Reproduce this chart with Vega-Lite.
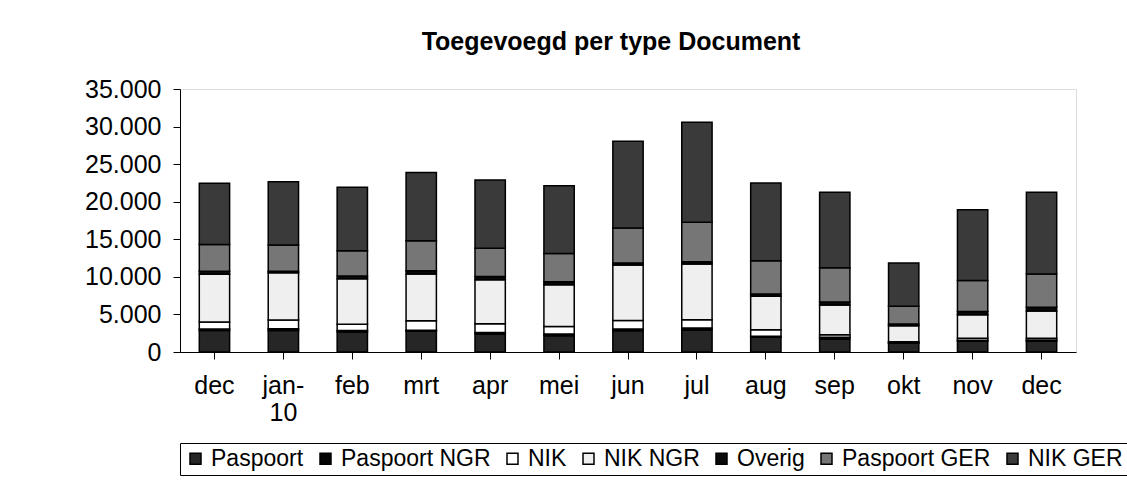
{
  "$schema": "https://vega.github.io/schema/vega-lite/v6.json",
  "width": 896,
  "height": 263,
  "padding": {"left": 84, "top": 30, "right": 5, "bottom": 5},
  "title": {"text": "Toegevoegd per type Document", "fontSize": 25, "font": "Liberation Sans", "fontWeight": "bold", "color": "#000", "offset": 22, "dx": -17},
  "data": {
    "values": [
      {"maand": "2009-12", "type": "Paspoort", "aantal": 2850},
      {"maand": "2009-12", "type": "Paspoort NGR", "aantal": 200},
      {"maand": "2009-12", "type": "NIK", "aantal": 950},
      {"maand": "2009-12", "type": "NIK NGR", "aantal": 6350},
      {"maand": "2009-12", "type": "Overig", "aantal": 400},
      {"maand": "2009-12", "type": "Paspoort GER", "aantal": 3550},
      {"maand": "2009-12", "type": "NIK GER", "aantal": 8150},
      {"maand": "2010-01", "type": "Paspoort", "aantal": 2850},
      {"maand": "2010-01", "type": "Paspoort NGR", "aantal": 250},
      {"maand": "2010-01", "type": "NIK", "aantal": 1150},
      {"maand": "2010-01", "type": "NIK NGR", "aantal": 6300},
      {"maand": "2010-01", "type": "Overig", "aantal": 200},
      {"maand": "2010-01", "type": "Paspoort GER", "aantal": 3500},
      {"maand": "2010-01", "type": "NIK GER", "aantal": 8400},
      {"maand": "2010-02", "type": "Paspoort", "aantal": 2650},
      {"maand": "2010-02", "type": "Paspoort NGR", "aantal": 200},
      {"maand": "2010-02", "type": "NIK", "aantal": 850},
      {"maand": "2010-02", "type": "NIK NGR", "aantal": 6050},
      {"maand": "2010-02", "type": "Overig", "aantal": 350},
      {"maand": "2010-02", "type": "Paspoort GER", "aantal": 3380},
      {"maand": "2010-02", "type": "NIK GER", "aantal": 8440},
      {"maand": "2010-03", "type": "Paspoort", "aantal": 2750},
      {"maand": "2010-03", "type": "Paspoort NGR", "aantal": 150},
      {"maand": "2010-03", "type": "NIK", "aantal": 1250},
      {"maand": "2010-03", "type": "NIK NGR", "aantal": 6230},
      {"maand": "2010-03", "type": "Overig", "aantal": 440},
      {"maand": "2010-03", "type": "Paspoort GER", "aantal": 3980},
      {"maand": "2010-03", "type": "NIK GER", "aantal": 9100},
      {"maand": "2010-04", "type": "Paspoort", "aantal": 2400},
      {"maand": "2010-04", "type": "Paspoort NGR", "aantal": 200},
      {"maand": "2010-04", "type": "NIK", "aantal": 1150},
      {"maand": "2010-04", "type": "NIK NGR", "aantal": 5870},
      {"maand": "2010-04", "type": "Overig", "aantal": 430},
      {"maand": "2010-04", "type": "Paspoort GER", "aantal": 3750},
      {"maand": "2010-04", "type": "NIK GER", "aantal": 9090},
      {"maand": "2010-05", "type": "Paspoort", "aantal": 2170},
      {"maand": "2010-05", "type": "Paspoort NGR", "aantal": 230},
      {"maand": "2010-05", "type": "NIK", "aantal": 1000},
      {"maand": "2010-05", "type": "NIK NGR", "aantal": 5560},
      {"maand": "2010-05", "type": "Overig", "aantal": 400},
      {"maand": "2010-05", "type": "Paspoort GER", "aantal": 3740},
      {"maand": "2010-05", "type": "NIK GER", "aantal": 9030},
      {"maand": "2010-06", "type": "Paspoort", "aantal": 2830},
      {"maand": "2010-06", "type": "Paspoort NGR", "aantal": 230},
      {"maand": "2010-06", "type": "NIK", "aantal": 1140},
      {"maand": "2010-06", "type": "NIK NGR", "aantal": 7380},
      {"maand": "2010-06", "type": "Overig", "aantal": 260},
      {"maand": "2010-06", "type": "Paspoort GER", "aantal": 4660},
      {"maand": "2010-06", "type": "NIK GER", "aantal": 11540},
      {"maand": "2010-07", "type": "Paspoort", "aantal": 2930},
      {"maand": "2010-07", "type": "Paspoort NGR", "aantal": 270},
      {"maand": "2010-07", "type": "NIK", "aantal": 1100},
      {"maand": "2010-07", "type": "NIK NGR", "aantal": 7400},
      {"maand": "2010-07", "type": "Overig", "aantal": 300},
      {"maand": "2010-07", "type": "Paspoort GER", "aantal": 5260},
      {"maand": "2010-07", "type": "NIK GER", "aantal": 13310},
      {"maand": "2010-08", "type": "Paspoort", "aantal": 1950},
      {"maand": "2010-08", "type": "Paspoort NGR", "aantal": 150},
      {"maand": "2010-08", "type": "NIK", "aantal": 850},
      {"maand": "2010-08", "type": "NIK NGR", "aantal": 4460},
      {"maand": "2010-08", "type": "Overig", "aantal": 310},
      {"maand": "2010-08", "type": "Paspoort GER", "aantal": 4430},
      {"maand": "2010-08", "type": "NIK GER", "aantal": 10340},
      {"maand": "2010-09", "type": "Paspoort", "aantal": 1730},
      {"maand": "2010-09", "type": "Paspoort NGR", "aantal": 220},
      {"maand": "2010-09", "type": "NIK", "aantal": 350},
      {"maand": "2010-09", "type": "NIK NGR", "aantal": 3950},
      {"maand": "2010-09", "type": "Overig", "aantal": 400},
      {"maand": "2010-09", "type": "Paspoort GER", "aantal": 4550},
      {"maand": "2010-09", "type": "NIK GER", "aantal": 10050},
      {"maand": "2010-10", "type": "Paspoort", "aantal": 1150},
      {"maand": "2010-10", "type": "Paspoort NGR", "aantal": 100},
      {"maand": "2010-10", "type": "NIK", "aantal": 100},
      {"maand": "2010-10", "type": "NIK NGR", "aantal": 2150},
      {"maand": "2010-10", "type": "Overig", "aantal": 230},
      {"maand": "2010-10", "type": "Paspoort GER", "aantal": 2350},
      {"maand": "2010-10", "type": "NIK GER", "aantal": 5760},
      {"maand": "2010-11", "type": "Paspoort", "aantal": 1420},
      {"maand": "2010-11", "type": "Paspoort NGR", "aantal": 130},
      {"maand": "2010-11", "type": "NIK", "aantal": 280},
      {"maand": "2010-11", "type": "NIK NGR", "aantal": 3130},
      {"maand": "2010-11", "type": "Overig", "aantal": 430},
      {"maand": "2010-11", "type": "Paspoort GER", "aantal": 4130},
      {"maand": "2010-11", "type": "NIK GER", "aantal": 9420},
      {"maand": "2010-12", "type": "Paspoort", "aantal": 1420},
      {"maand": "2010-12", "type": "Paspoort NGR", "aantal": 180},
      {"maand": "2010-12", "type": "NIK", "aantal": 230},
      {"maand": "2010-12", "type": "NIK NGR", "aantal": 3620},
      {"maand": "2010-12", "type": "Overig", "aantal": 500},
      {"maand": "2010-12", "type": "Paspoort GER", "aantal": 4430},
      {"maand": "2010-12", "type": "NIK GER", "aantal": 10870}
    ]
  },
  "transform": [
    {"calculate": "datum.type == 'Paspoort' ? 0 : datum.type == 'Paspoort NGR' ? 1 : datum.type == 'NIK' ? 2 : datum.type == 'NIK NGR' ? 3 : datum.type == 'Overig' ? 4 : datum.type == 'Paspoort GER' ? 5 : 6", "as": "volgorde"}
  ],
  "mark": {"type": "bar", "stroke": "#000", "strokeWidth": 1.5},
  "encoding": {
    "x": {
      "field": "maand",
      "type": "ordinal",
      "scale": {"paddingInner": 0.56, "paddingOuter": 0.28},
      "axis": {
        "title": null,
        "labelAngle": 0,
        "labelFontSize": 25,
        "labelFont": "Liberation Sans",
        "labelColor": "#000",
        "domainColor": "#000",
        "tickColor": "#000",
        "labelPadding": 14,
        "tickSize": 7,
        "labelExpr": "datum.value == '2010-01' ? ['jan-', '10'] : ['jan', 'feb', 'mrt', 'apr', 'mei', 'jun', 'jul', 'aug', 'sep', 'okt', 'nov', 'dec'][toNumber(slice(datum.value, 5)) - 1]"
      }
    },
    "y": {
      "field": "aantal",
      "type": "quantitative",
      "scale": {"domain": [0, 35000]},
      "axis": {
        "title": null,
        "grid": false,
        "tickCount": 7,
        "labelFontSize": 25,
        "labelFont": "Liberation Sans",
        "labelColor": "#000",
        "domainColor": "#000",
        "tickColor": "#000",
        "labelPadding": 12,
        "tickSize": 7,
        "labelExpr": "replace(format(datum.value, ','), ',', '.')"
      }
    },
    "color": {
      "field": "type",
      "type": "nominal",
      "scale": {
        "domain": ["Paspoort", "Paspoort NGR", "NIK", "NIK NGR", "Overig", "Paspoort GER", "NIK GER"],
        "range": ["#262626", "#050505", "#ffffff", "#efefef", "#0a0a0a", "#767676", "#3a3a3a"]
      },
      "legend": {
        "title": null,
        "orient": "bottom",
        "direction": "horizontal",
        "symbolType": "square",
        "symbolSize": 121,
        "labelFontSize": 23,
        "labelFont": "Liberation Sans",
        "labelColor": "#000",
        "symbolStrokeColor": "#000",
        "strokeColor": "#000",
        "padding": 4
      }
    },
    "order": {"field": "volgorde", "type": "quantitative"}
  }
}
